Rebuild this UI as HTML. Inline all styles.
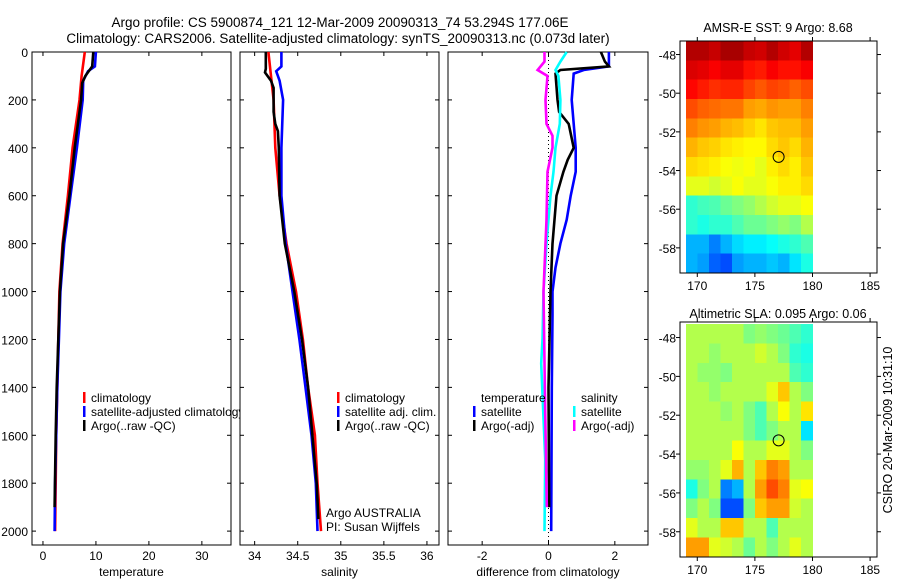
<!DOCTYPE html>
<html><head><meta charset="utf-8"><style>
html,body{margin:0;padding:0;background:#fff;}
svg{display:block;font-family:"Liberation Sans",sans-serif;}
</style></head><body>
<svg id="fig" width="900" height="580" viewBox="0 0 900 580">
<text x="340" y="27" font-size="13.5" text-anchor="middle">Argo profile: CS 5900874_121 12-Mar-2009 20090313_74 53.294S 177.06E</text>
<text x="338" y="43" font-size="13.5" text-anchor="middle">Climatology: CARS2006. Satellite-adjusted climatology: synTS_20090313.nc (0.073d later)</text>
<text x="778" y="32" font-size="12.5" text-anchor="middle">AMSR-E SST: 9 Argo: 8.68</text>
<text x="778" y="318" font-size="12.5" text-anchor="middle">Altimetric SLA: 0.095 Argo: 0.06</text>
<text transform="translate(892,430) rotate(-90)" font-size="12.5" text-anchor="middle">CSIRO 20-Mar-2009 10:31:10</text>
</svg>
<script>
// ---- data ----
const depthTicks=[0,200,400,600,800,1000,1200,1400,1600,1800,2000];
const tempTicks=[0,10,20,30];
const salTicks=[34,34.5,35,35.5,36];
const diffTicks=[-2,0,2];
const tClimDepth=[0,100,200,400,600,800,1000,1200,1400,1600,1800,2000];
const tClimVal=[7.9,7.3,6.9,5.6,4.7,3.7,3.1,2.9,2.7,2.5,2.4,2.3];
const tSatDepth=[0,60,80,120,200,400,600,800,1000,1200,1400,1600,1800,2000];
const tSatVal=[10.0,9.8,8.5,7.6,7.5,6.4,5.2,4.0,3.3,3.0,2.7,2.5,2.3,2.2];
const tArgoDepth=[0,60,100,130,200,400,600,800,1000,1200,1400,1600,1900];
const tArgoVal=[9.5,9.3,8.0,7.4,7.2,6.0,5.0,3.8,3.2,2.9,2.6,2.4,2.2];
const sClimDepth=[0,100,200,400,600,800,1000,1200,1400,1600,1800,2000];
const sClimVal=[34.16,34.19,34.22,34.24,34.29,34.37,34.48,34.56,34.62,34.70,34.73,34.77];
const sSatDepth=[0,60,80,120,200,400,600,800,1000,1200,1400,1600,1800,2000];
const sSatVal=[34.31,34.31,34.25,34.29,34.33,34.31,34.31,34.36,34.44,34.52,34.59,34.66,34.71,34.73];
const sArgoDepth=[0,70,85,120,150,250,300,330,400,600,800,1000,1200,1400,1800,1950];
const sArgoVal=[34.13,34.13,34.12,34.19,34.22,34.22,34.24,34.27,34.28,34.29,34.35,34.46,34.55,34.62,34.72,34.74];
const dTSatDepth=[0,60,75,90,200,300,400,500,600,700,800,900,1000,1100,1400,2000];
const dTSatVal=[1.82,1.82,1.06,0.76,0.70,0.76,0.82,0.82,0.67,0.55,0.36,0.21,0.12,0.12,0.10,0.08];
const dTArgoDepth=[0,40,60,75,90,200,250,300,400,450,500,600,800,1000,1400,1900];
const dTArgoVal=[1.58,1.70,1.82,0.36,0.21,0.27,0.32,0.61,0.76,0.58,0.45,0.24,0.12,0.06,0.0,0.02];
const dSSatDepth=[0,40,75,100,200,300,400,500,600,800,1000,1200,1300,1700,2000];
const dSSatVal=[0.55,0.36,0.21,0.30,0.36,0.34,0.21,0.15,0.06,-0.06,-0.15,-0.18,-0.22,-0.10,-0.12];
const dSArgoDepth=[0,40,75,100,200,300,350,400,500,700,1000,1500,1900];
const dSArgoVal=[-0.12,-0.12,-0.33,-0.03,-0.09,-0.06,0.12,0.12,-0.03,-0.06,-0.15,-0.10,-0.05];
const lonTicks=[170,175,180,185];
const latTicks=[-48,-50,-52,-54,-56,-58];
const sstGrid=[
[.95,.95,.93,.96,.96,.93,.92,.95,.92,.9,.95],
[.91,.9,.88,.9,.9,.86,.85,.88,.86,.86,.88],
[.87,.85,.83,.84,.84,.81,.79,.81,.8,.78,.8],
[.8,.78,.77,.76,.76,.72,.71,.73,.72,.72,.75],
[.75,.73,.72,.7,.69,.67,.65,.68,.69,.69,.72],
[.7,.68,.67,.65,.64,.63,.63,.66,.68,.66,.7],
[.66,.65,.64,.62,.61,.62,.6,.64,.66,.64,.68],
[.6,.6,.58,.6,.62,.6,.6,.62,.64,.64,.66],
[.42,.44,.45,.48,.5,.52,.55,.58,.6,.6,.62],
[.42,.4,.42,.42,.45,.48,.48,.5,.52,.5,.55],
[.3,.3,.25,.3,.34,.36,.36,.38,.4,.42,.45],
[.3,.28,.22,.2,.28,.3,.3,.32,.3,.35,.4]];
const slaGrid=[
[.55,.55,.55,.55,.55,.5,.52,.5,.48,.45,.42],
[.55,.55,.52,.55,.55,.55,.58,.55,.5,.42,.4],
[.55,.52,.52,.5,.55,.55,.55,.55,.55,.45,.42],
[.55,.55,.52,.55,.55,.55,.55,.6,.68,.55,.5],
[.55,.55,.55,.52,.55,.5,.45,.55,.62,.55,.65],
[.55,.55,.55,.55,.55,.5,.45,.5,.55,.55,.35],
[.55,.55,.55,.55,.62,.55,.55,.6,.6,.55,.5],
[.52,.52,.55,.6,.7,.55,.68,.75,.72,.55,.55],
[.4,.5,.55,.25,.3,.55,.72,.8,.75,.6,.62],
[.5,.55,.5,.2,.2,.5,.68,.72,.72,.58,.55],
[.6,.55,.55,.68,.68,.55,.55,.45,.55,.55,.55],
[.72,.72,.6,.58,.55,.48,.55,.5,.55,.6,.55]];
const gridLon0=169, gridLat0=-47.3, gridDLat=1.0, gridDLon=1.0;
const argoLon=177.06, argoLat=-53.294;

const NS='http://www.w3.org/2000/svg';
const svg=document.getElementById('fig');
function el(tag,attrs,parent){const e=document.createElementNS(NS,tag);for(const k in attrs)e.setAttribute(k,attrs[k]);(parent||svg).appendChild(e);return e;}
function txt(x,y,s,size,anchor,parent){const t=el('text',{x:x,y:y,'font-size':size,'text-anchor':anchor||'start'},parent);t.textContent=s;return t;}

const yTop=52, yBot=545, dMin=0, dMax=2058;
function yD(d){return yTop+(d-dMin)/(dMax-dMin)*(yBot-yTop);}
function panel(name,x0,x1,vMin,vMax,ticks,label,showY){
  const g=el('g',{});
  
  
  const xs=v=>x0+(v-vMin)/(vMax-vMin)*(x1-x0);
  el('rect',{x:x0,y:yTop,width:x1-x0,height:yBot-yTop,fill:'#fff',stroke:'#000','stroke-width':1},g);
  depthTicks.forEach(d=>{const y=yD(d);
    el('line',{x1:x0,x2:x0+4,y1:y,y2:y,stroke:'#000'},g);
    el('line',{x1:x1-4,x2:x1,y1:y,y2:y,stroke:'#000'},g);
    if(showY){const t=txt(28,y+5,String(d),12,'end',g);}
  });
  ticks.forEach(v=>{const x=xs(v);
    el('line',{x1:x,x2:x,y1:yBot,y2:yBot-4,stroke:'#000'},g);
    el('line',{x1:x,x2:x,y1:yTop,y2:yTop+4,stroke:'#000'},g);
    const t=txt(x,560,String(v),12,'middle',g);
    
    
  });
  const at=txt((x0+x1)/2,576,label,12,'middle',g);
  
  
  return {g,xs};
}
function series(p,name,depths,vals,color){
  const pts=depths.map((d,i)=>p.xs(vals[i]).toFixed(1)+','+yD(d).toFixed(1)).join(' ');
  const l=el('polyline',{points:pts,fill:'none',stroke:color,'stroke-width':2.6},p.g);
  
  
}
function legend(p,x,y,color,label,name){
  const g=el('g',{},p.g);
  
  
  if(color) el('rect',{x:x,y:y-10,width:2.5,height:11,fill:color},g);
  txt(x+8,y,label,12,'start',g);
}
const p1=panel('temperature-panel',32,231,-2.07,35.5,tempTicks,'temperature',true);
series(p1,'temp-climatology-line',tClimDepth,tClimVal,'#f00');
series(p1,'temp-satellite-line',tSatDepth,tSatVal,'#00f');
series(p1,'temp-argo-line',tArgoDepth,tArgoVal,'#000');
legend(p1,83,402,'#f00','climatology','legend-climatology');
legend(p1,83,416,'#00f','satellite-adjusted climatology','legend-satellite');
legend(p1,83,430,'#000','Argo(..raw -QC)','legend-argo');

const p2=panel('salinity-panel',240,439,33.83,36.14,salTicks,'salinity',false);
series(p2,'sal-climatology-line',sClimDepth,sClimVal,'#f00');
series(p2,'sal-satellite-line',sSatDepth,sSatVal,'#00f');
series(p2,'sal-argo-line',sArgoDepth,sArgoVal,'#000');
legend(p2,337,402,'#f00','climatology','legend-climatology');
legend(p2,337,416,'#00f','satellite adj. clim.','legend-satellite');
legend(p2,337,430,'#000','Argo(..raw -QC)','legend-argo');
legend(p2,318,517,null,'Argo AUSTRALIA','argo-australia-note');
legend(p2,318,531,null,'PI: Susan Wijffels','pi-note');

const p3=panel('difference-panel',448,648,-3.03,3.0,diffTicks,'difference from climatology',false);
el('line',{x1:p3.xs(0),x2:p3.xs(0),y1:yTop,y2:yBot,stroke:'#000','stroke-dasharray':'1,3'},p3.g);
series(p3,'diff-temp-satellite-line',dTSatDepth,dTSatVal,'#00f');
series(p3,'diff-temp-argo-line',dTArgoDepth,dTArgoVal,'#000');
series(p3,'diff-sal-satellite-line',dSSatDepth,dSSatVal,'#0ff');
series(p3,'diff-sal-argo-line',dSArgoDepth,dSArgoVal,'#f0f');
legend(p3,473,402,null,'temperature','legend-temp-header');
legend(p3,473,416,'#00f','satellite','legend-temp-satellite');
legend(p3,473,430,'#000','Argo(-adj)','legend-temp-argo');
legend(p3,573,402,null,'salinity','legend-sal-header');
legend(p3,573,416,'#0ff','satellite','legend-sal-satellite');
legend(p3,573,430,'#f0f','Argo(-adj)','legend-sal-argo');

function jet(v){v=Math.max(0,Math.min(1,v));
  const r=Math.max(0,Math.min(1,1.5-Math.abs(4*v-3)));
  const g=Math.max(0,Math.min(1,1.5-Math.abs(4*v-2)));
  const b=Math.max(0,Math.min(1,1.5-Math.abs(4*v-1)));
  return 'rgb('+Math.round(r*255)+','+Math.round(g*255)+','+Math.round(b*255)+')';}
function map(name,x0,x1,yT,yB,latTop,latBot,grid){
  const g=el('g',{});
  
  
  const lonMin=168.5, lonMax=185.6;
  const xs=l=>x0+(l-lonMin)/(lonMax-lonMin)*(x1-x0);
  const ys=l=>yT+(latTop-l)/(latTop-latBot)*(yB-yT);
  el('rect',{x:x0,y:yT,width:x1-x0,height:yB-yT,fill:'#fff',stroke:'#000'},g);
  grid.forEach((row,i)=>row.forEach((v,j)=>{
    const la=gridLat0-i*gridDLat, lo=gridLon0+j*gridDLon;
    const xa=xs(lo), xb=xs(lo+gridDLon), ya=ys(la), yb=Math.min(yB,ys(la-gridDLat));
    const c=el('rect',{x:xa,y:ya,width:xb-xa+0.5,height:yb-ya+0.5,fill:jet(v),'shape-rendering':'crispEdges'},g);
    
    
  }));
  el('rect',{x:x0,y:yT,width:x1-x0,height:yB-yT,fill:'none',stroke:'#000'},g);
  latTicks.forEach(l=>{const y=ys(l);
    el('line',{x1:x0-4,x2:x0,y1:y,y2:y,stroke:'#000'},g);
    el('line',{x1:x1,x2:x1+4,y1:y,y2:y,stroke:'#000'},g);
    const t=txt(x0-4,y+5,String(l),12,'end',g);
    
    
  });
  lonTicks.forEach(l=>{const x=xs(l);
    el('line',{x1:x,x2:x,y1:yB,y2:yB+4,stroke:'#000'},g);
    el('line',{x1:x,x2:x,y1:yT-4,y2:yT,stroke:'#000'},g);
    const t=txt(x,yB+17,String(l),12,'middle',g);
    
    
  });
  const c=el('circle',{cx:xs(argoLon),cy:ys(argoLat),r:5.5,fill:'none',stroke:'#000'},g);
  
  
}
map('sst-map',680,877,41,273,-47.3,-59.3,sstGrid);
map('sla-map',680,877,322,557,-47.2,-59.3,slaGrid);
</script>
</body></html>
